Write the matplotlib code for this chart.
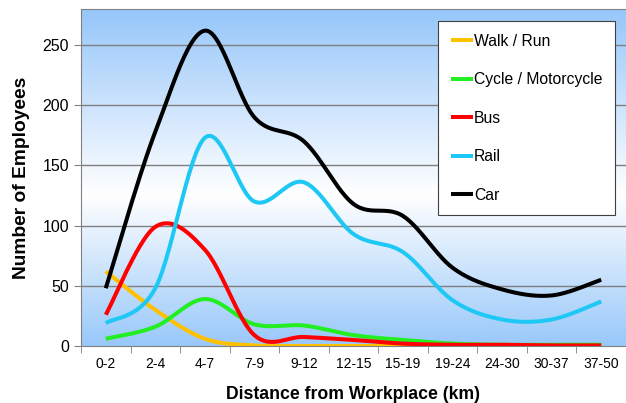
import numpy as np
import matplotlib
matplotlib.use("Agg")
import matplotlib.pyplot as plt
from matplotlib.colors import LinearSegmentedColormap

plt.rcParams["font.family"] = ["Liberation Sans", "DejaVu Sans"]

categories = ["0-2", "2-4", "4-7", "7-9", "9-12", "12-15", "15-19",
              "19-24", "24-30", "30-37", "37-50"]
walk = [62, 30, 6, 0.5, 0, 0, 0, 0, 0, 0, 0]
cycle = [6, 16, 39, 18, 17, 9, 5, 2, 1, 1, 1]
bus = [26, 99, 80, 9, 7.5, 5, 2, 1, 1, 0.5, 0.5]
rail = [19, 48, 173, 120, 136, 93, 78, 38, 22, 22, 37]
car = [48, 178, 262, 190, 170, 118, 108, 65, 47, 42, 55]

series = [
    ("Walk / Run", walk, "#ffc000"),
    ("Cycle / Motorcycle", cycle, "#22ee22"),
    ("Bus", bus, "#ff0000"),
    ("Rail", rail, "#1ec8f5"),
    ("Car", car, "#000000"),
]


def smooth(xs, ys, n=30):
    # Excel-style smoothed line: cubic Bezier segments through the points
    p = np.column_stack([xs, ys]).astype(float)
    p = np.vstack([p[0], p, p[-1]])
    out = []
    t = np.linspace(0, 1, n)[:, None]
    for i in range(1, len(p) - 2):
        p0, p3 = p[i], p[i + 1]
        c1 = p0 + (p[i + 1] - p[i - 1]) / 6
        c2 = p3 - (p[i + 2] - p[i]) / 6
        seg = ((1 - t) ** 3) * p0 + 3 * ((1 - t) ** 2) * t * c1 \
            + 3 * (1 - t) * t ** 2 * c2 + t ** 3 * p3
        out.append(seg if i == 1 else seg[1:])
    seg = np.vstack(out)
    return seg[:, 0], seg[:, 1]


fig = plt.figure(figsize=(6.26, 4.03), dpi=100)
ax = fig.add_axes([81 / 626, 1 - 346 / 403, 545 / 626, 337 / 403])

ymax = 280
x = np.arange(len(categories))
ax.set_xlim(-0.5, len(categories) - 0.5)
ax.set_ylim(0, ymax)

# background gradient: blue at top and bottom, white around the middle
bg = LinearSegmentedColormap.from_list(
    "bg", [(0.0, "#99c8fa"), (0.45, "#ffffff"), (1.0, "#96c6fa")])
grad = np.linspace(0, 1, 256)[:, None]
ax.imshow(grad, cmap=bg, aspect="auto", origin="lower",
          extent=(-0.5, len(categories) - 0.5, 0, ymax), zorder=0)

for yv in range(50, 260, 50):
    ax.axhline(yv, color="#7f7f7f", lw=1, zorder=1)

for name, vals, col in series:
    sx, sy = smooth(x, vals)
    ax.plot(sx, sy, color=col, lw=2.9, label=name, zorder=3,
            solid_capstyle="butt")

ax.set_xticks(x)
ax.set_xticklabels(categories, fontsize=10)
ax.set_xticks(np.arange(-0.5, len(categories), 1), minor=True)
ax.tick_params(axis="x", which="major", length=0, pad=8)
ax.tick_params(axis="x", which="minor", length=5, color="#808080")
ax.set_yticks(range(0, 260, 50))
ax.tick_params(axis="y", labelsize=11.5, length=5, color="#808080")

for s in ["left", "bottom", "top"]:
    ax.spines[s].set_color("#808080")
ax.spines["right"].set_visible(False)

ax.set_xlabel("Distance from Workplace (km)", fontsize=12.7,
              fontweight="bold", labelpad=11)
ax.set_ylabel("Number of Employees", fontsize=13.8, fontweight="bold",
              labelpad=9)

leg = ax.legend(loc="upper left", bbox_to_anchor=(0.655, 0.964),
                fontsize=11.3, labelspacing=1.5, handlelength=1.4,
                handletextpad=0.1, borderpad=0.8, fancybox=False,
                framealpha=1, edgecolor="#404040", borderaxespad=0)
leg.get_frame().set_linewidth(0.8)
leg.set_zorder(5)

fig.savefig("out.png", dpi=100)
